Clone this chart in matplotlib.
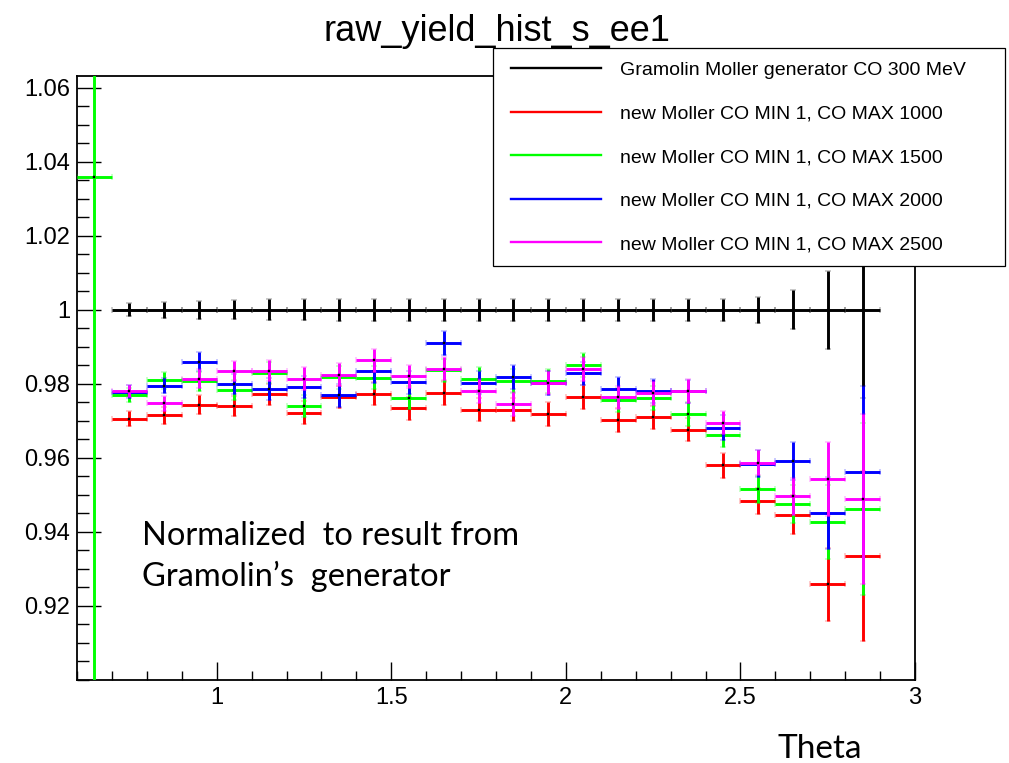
import matplotlib
matplotlib.use("Agg")
import matplotlib.pyplot as plt
from matplotlib.lines import Line2D
from matplotlib.legend_handler import HandlerLine2D
from matplotlib.ticker import FixedLocator, MultipleLocator, FuncFormatter

# Bin centres (theta), bin half width 0.05
theta = [0.75, 0.85, 0.95, 1.05, 1.15, 1.25, 1.35, 1.45, 1.55, 1.65, 1.75,
         1.85, 1.95, 2.05, 2.15, 2.25, 2.35, 2.45, 2.55, 2.65, 2.75, 2.85]
theta_green = [0.65, 0.75, 0.85, 0.95, 1.05, 1.15, 1.25, 1.35, 1.45, 1.55, 1.65,
               1.75, 1.85, 1.95, 2.05, 2.15, 2.25, 2.35, 2.45, 2.55, 2.65, 2.75, 2.85]
bin_half = 0.05

# Gramolin generator (reference, normalised to 1)
gramolin = [1.0, 1.0, 1.0, 1.0, 1.0, 1.0, 1.0, 1.0, 1.0, 1.0, 1.0,
            1.0, 1.0, 1.0, 1.0, 1.0, 1.0, 1.0, 1.0, 1.0, 1.0, 1.0]
gramolin_err = [0.0017, 0.0021, 0.0025, 0.0026, 0.0028, 0.0029, 0.0030, 0.0030, 0.0030, 0.0030, 0.0030,
                0.0030, 0.0030, 0.0030, 0.0030, 0.0030, 0.0030, 0.0030, 0.0035, 0.0053, 0.0105, 0.0240]

# new Moller generator, CO MAX 1000
co1000 = [0.9705, 0.9714, 0.9743, 0.9740, 0.9771, 0.9722, 0.9764, 0.9773, 0.9734, 0.9774, 0.9730,
          0.9730, 0.9718, 0.9764, 0.9701, 0.9709, 0.9676, 0.9579, 0.9483, 0.9446, 0.9257, 0.9334]
co1000_err = [0.0020, 0.0022, 0.0026, 0.0027, 0.0029, 0.0030, 0.0031, 0.0031, 0.0031, 0.0032, 0.0032,
              0.0032, 0.0032, 0.0032, 0.0032, 0.0032, 0.0032, 0.0033, 0.0036, 0.0052, 0.0099, 0.0229]

# new Moller generator, CO MAX 1500 (has an extra first bin)
co1500 = [1.0360, 0.9770, 0.9809, 0.9806, 0.9783, 0.9830, 0.9739, 0.9818, 0.9816, 0.9762, 0.9836,
          0.9814, 0.9808, 0.9808, 0.9850, 0.9756, 0.9761, 0.9718, 0.9662, 0.9514, 0.9474, 0.9426, 0.9461]
co1500_err = [0.2000, 0.0019, 0.0023, 0.0026, 0.0027, 0.0029, 0.0030, 0.0031, 0.0031, 0.0031, 0.0032, 0.0032,
              0.0032, 0.0032, 0.0032, 0.0032, 0.0032, 0.0032, 0.0033, 0.0036, 0.0052, 0.0100, 0.0233]

# new Moller generator, CO MAX 2000
co2000 = [0.9778, 0.9795, 0.9859, 0.9798, 0.9786, 0.9790, 0.9769, 0.9834, 0.9804, 0.9910, 0.9803,
          0.9818, 0.9801, 0.9828, 0.9785, 0.9781, 0.9779, 0.9681, 0.9584, 0.9591, 0.9451, 0.9562]
co2000_err = [0.0018, 0.0021, 0.0026, 0.0027, 0.0029, 0.0030, 0.0031, 0.0031, 0.0031, 0.0032, 0.0032,
              0.0032, 0.0032, 0.0032, 0.0032, 0.0032, 0.0032, 0.0033, 0.0036, 0.0051, 0.0098, 0.0232]

# new Moller generator, CO MAX 2500
co2500 = [0.9780, 0.9747, 0.9814, 0.9835, 0.9835, 0.9814, 0.9824, 0.9863, 0.9820, 0.9841, 0.9780,
          0.9745, 0.9803, 0.9839, 0.9763, 0.9775, 0.9780, 0.9695, 0.9586, 0.9496, 0.9542, 0.9488]
co2500_err = [0.0017, 0.0021, 0.0026, 0.0027, 0.0029, 0.0030, 0.0031, 0.0031, 0.0031, 0.0032, 0.0032,
              0.0032, 0.0032, 0.0032, 0.0032, 0.0032, 0.0032, 0.0030, 0.0034, 0.0050, 0.0100, 0.0231]

labels = ["Gramolin Moller generator CO 300 MeV",
          "new Moller CO MIN 1, CO MAX 1000",
          "new Moller CO MIN 1, CO MAX 1500",
          "new Moller CO MIN 1, CO MAX 2000",
          "new Moller CO MIN 1, CO MAX 2500"]
colors = ["#000000", "#ff0000", "#00ff00", "#0000ff", "#ff00ff"]

y_ticks = [0.92, 0.94, 0.96, 0.98, 1.00, 1.02, 1.04, 1.06]
x_ticks = [1.0, 1.5, 2.0, 2.5, 3.0]

series = [(theta, gramolin, gramolin_err),
          (theta, co1000, co1000_err),
          (theta_green, co1500, co1500_err),
          (theta, co2000, co2000_err),
          (theta, co2500, co2500_err)]

W, H = 1009, 763
fig = plt.figure(figsize=(W / 100, H / 100), dpi=100)
ax = fig.add_axes([77 / W, (H - 679.5) / H, (915 - 77) / W, (679.5 - 75.7) / H])

for i, ((xs, ys, es), col) in enumerate(zip(series, colors)):
    ax.errorbar(xs, ys, xerr=bin_half, yerr=es, fmt="s", ms=1.6,
                mfc="black", mec="black", mew=0.3,
                ecolor=col, elinewidth=2.1, capsize=1.9, capthick=2.1,
                zorder=2 + i, clip_on=True)

ax.set_xlim(0.6, 3.0)
ax.set_ylim(0.9, 1.0633)

ax.yaxis.set_major_locator(FixedLocator(y_ticks))
ax.yaxis.set_minor_locator(MultipleLocator(0.005))
ax.xaxis.set_major_locator(FixedLocator(x_ticks))
ax.xaxis.set_minor_locator(MultipleLocator(0.1))
fmt = FuncFormatter(lambda v, p: f"{v:g}")
ax.xaxis.set_major_formatter(fmt)
ax.yaxis.set_major_formatter(fmt)

ax.tick_params(which="both", direction="in", top=False, right=False,
               width=1.0, color="black", labelsize=17)
ax.tick_params(axis="y", which="major", length=17.5, pad=5)
ax.tick_params(axis="y", which="minor", length=8.7)
ax.tick_params(axis="x", which="major", length=13, pad=5.5)
ax.tick_params(axis="x", which="minor", length=6.2)
for lab in ax.get_xticklabels() + ax.get_yticklabels():
    lab.set_fontfamily("Liberation Sans")
for sp in ax.spines.values():
    sp.set_linewidth(1.3)

fig.text(497 / W, 1 - 41 / H, "raw_yield_hist_s_ee1", ha="center", va="baseline",
         fontsize=26, family="Liberation Sans")

handles = [Line2D([], [], color=c, lw=1.7) for c in colors]
leg = fig.legend(handles, labels, loc="upper left",
                 bbox_to_anchor=(493 / W, 1 - 264.6 / H, (1005 - 493) / W, (264.6 - 48.4) / H),
                 mode="expand", borderaxespad=0, borderpad=0.68, labelspacing=1.33,
                 handlelength=4.88, handletextpad=0.97,
                 handler_map={Line2D: HandlerLine2D(xpad=0.25)},
                 fancybox=False, framealpha=1, edgecolor="black",
                 prop={"family": "Liberation Sans", "size": 14})
leg.get_frame().set_linewidth(0.9)

note_lines = ["Normalized  to result from", "Gramolin\u2019s  generator"]
for k, line in enumerate(note_lines):
    fig.text(142 / W, 1 - (545 + 41 * k) / H, line,
             ha="left", va="baseline", fontsize=23.5, family="Lato")
fig.text(862 / W, 1 - 758 / H, "Theta", ha="right", va="baseline",
         fontsize=24, family="Lato")

fig.savefig("out.png", dpi=100)
